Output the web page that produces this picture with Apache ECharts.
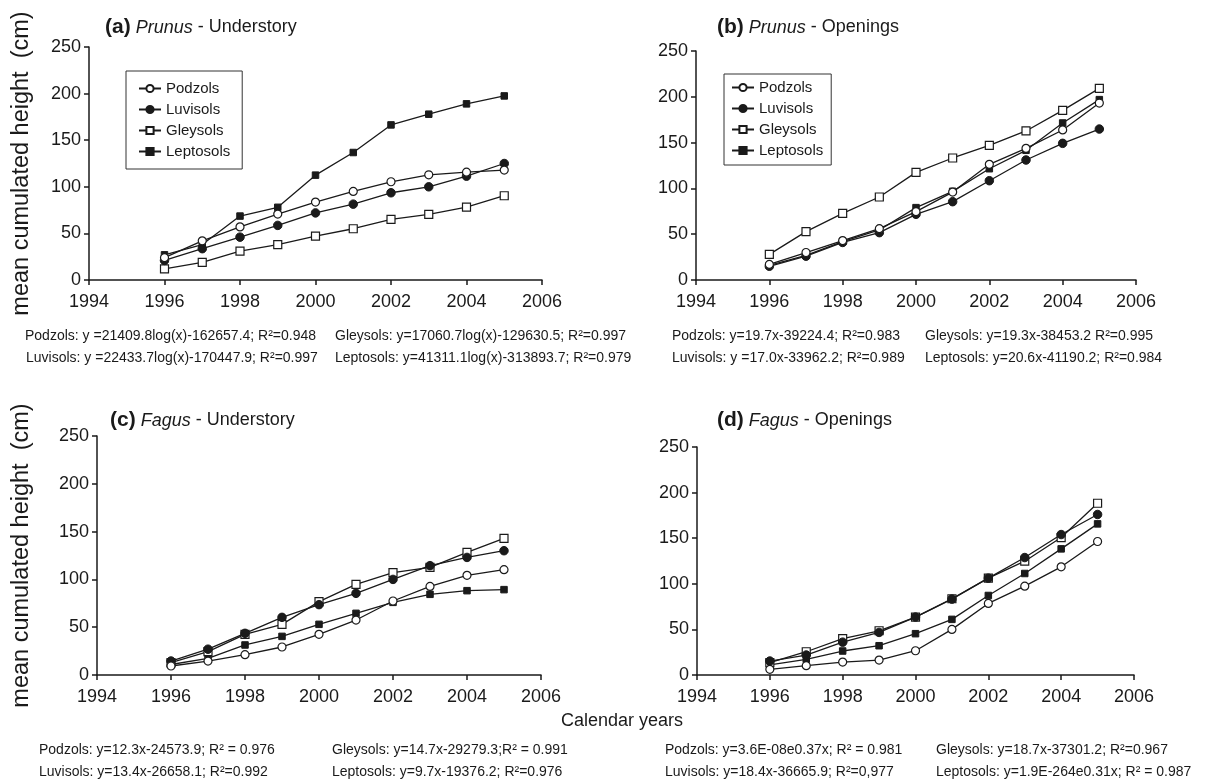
<!DOCTYPE html>
<html>
<head>
<meta charset="utf-8">
<script src="https://cdn.jsdelivr.net/npm/echarts@6/dist/echarts.min.js"></script>
<style>
html,body{margin:0;padding:0;background:#fff;}
#chart{width:1210px;height:782px;}
</style>
</head>
<body>
<div id="chart"></div>
<script>
// ---------- data ----------
const years = [1996, 1997, 1998, 1999, 2000, 2001, 2002, 2003, 2004, 2005];
const soils = ['Podzols', 'Luvisols', 'Gleysols', 'Leptosols'];
const xTicks = [1994, 1996, 1998, 2000, 2002, 2004, 2006];
const yTicks = [0, 50, 100, 150, 200, 250];

// (a) Prunus - Understory
const a_podzols   = [24, 42, 57, 70.7, 83.6, 95, 105.4, 112.9, 115.7, 117.9];
const a_luvisols  = [21, 33.6, 46, 58.6, 72, 81.4, 93.6, 100, 111.4, 125];
const a_gleysols  = [12, 19, 31, 38, 47, 55, 65, 70.4, 78.2, 90.4];
const a_leptosols = [27, 38, 68.6, 78, 112.5, 136.8, 166.4, 177.9, 189, 197.5];
// (b) Prunus - Openings
const b_podzols   = [17, 30, 43, 56, 74.6, 96, 126.3, 143.7, 163.8, 193.2];
const b_luvisols  = [15, 26, 41, 51.7, 71.7, 85.5, 108.4, 131, 149.2, 164.8];
const b_gleysols  = [28, 52.8, 72.8, 90.6, 117.5, 133.2, 147, 162.7, 185.2, 209.2];
const b_leptosols = [16, 27, 42, 54.6, 79, 96.8, 121.5, 141.6, 171.4, 196.9];
// (c) Fagus - Understory
const c_podzols   = [9.4, 14.6, 21.3, 29.3, 42.5, 57.5, 77.4, 92.7, 104.3, 110.2];
const c_luvisols  = [14.6, 27, 43.6, 60.3, 73.6, 85.4, 100, 114.4, 123, 130];
const c_gleysols  = [13, 24.4, 42.5, 53, 76.7, 94.8, 107, 112.6, 128.3, 143];
const c_leptosols = [11, 17.4, 31.4, 40.4, 53, 64.5, 76, 84.4, 88.2, 89.3];
// (d) Fagus - Openings
const d_podzols   = [6.2, 10.2, 14.2, 16.4, 26.6, 50, 78.5, 97.4, 118.6, 146.4];
const d_luvisols  = [15.3, 21.9, 36, 46.7, 63.5, 83.2, 106.2, 128.8, 154, 176];
const d_gleysols  = [13.5, 25.5, 39.8, 48.5, 63.5, 83.6, 106.2, 124.8, 150.7, 188.3];
const d_leptosols = [11, 17.2, 26.3, 32.1, 45.3, 61, 87.2, 111.3, 138.3, 165.7];

const panelTitles = [
  ['(a)', 'Prunus', ' - Understory'],
  ['(b)', 'Prunus', ' - Openings'],
  ['(c)', 'Fagus', ' - Understory'],
  ['(d)', 'Fagus', ' - Openings']
];
const yAxisLabel = 'mean cumulated height  (cm)';
const xAxisLabel = 'Calendar years';
const eq_a = ['Podzols: y =21409.8log(x)-162657.4; R²=0.948', 'Luvisols: y =22433.7log(x)-170447.9; R²=0.997',
              'Gleysols: y=17060.7log(x)-129630.5; R²=0.997', 'Leptosols: y=41311.1log(x)-313893.7; R²=0.979'];
const eq_b = ['Podzols: y=19.7x-39224.4; R²=0.983', 'Luvisols: y =17.0x-33962.2; R²=0.989',
              'Gleysols: y=19.3x-38453.2 R²=0.995', 'Leptosols: y=20.6x-41190.2; R²=0.984'];
const eq_c = ['Podzols: y=12.3x-24573.9; R² = 0.976', 'Luvisols: y=13.4x-26658.1; R²=0.992',
              'Gleysols: y=14.7x-29279.3;R² = 0.991', 'Leptosols: y=9.7x-19376.2; R²=0.976'];
const eq_d = ['Podzols: y=3.6E-08e0.37x; R² = 0.981', 'Luvisols: y=18.4x-36665.9; R²=0,977',
              'Gleysols: y=18.7x-37301.2; R²=0.967', 'Leptosols: y=1.9E-264e0.31x; R² = 0.987'];

const panelData = [
  [a_podzols, a_luvisols, a_gleysols, a_leptosols],
  [b_podzols, b_luvisols, b_gleysols, b_leptosols],
  [c_podzols, c_luvisols, c_gleysols, c_leptosols],
  [d_podzols, d_luvisols, d_gleysols, d_leptosols]
];

// ---------- layout / style ----------
const INK = '#1a1a1a';
const FONT = '"Liberation Sans", Arial, Helvetica, sans-serif';
const grids = [
  {left: 89,  top: 47,  width: 453, height: 233},
  {left: 696, top: 51,  width: 440, height: 229},
  {left: 97,  top: 436, width: 444, height: 239},
  {left: 697, top: 447, width: 437, height: 228}
];
const symbolStyles = [
  {symbol: 'circle', symbolSize: 8, itemStyle: {color: '#fff', borderColor: INK, borderWidth: 1.2}},
  {symbol: 'circle', symbolSize: 8.5, itemStyle: {color: INK, borderColor: INK, borderWidth: 1}},
  {symbol: 'rect',   symbolSize: 8, itemStyle: {color: '#fff', borderColor: INK, borderWidth: 1.2}},
  {symbol: 'rect',   symbolSize: 6.5, itemStyle: {color: INK, borderColor: INK, borderWidth: 1}}
];

const xAxes = grids.map((g, i) => ({
  type: 'value', gridIndex: i, min: xTicks[0], max: xTicks[xTicks.length - 1], interval: 2,
  axisLine: {show: true, onZero: false, lineStyle: {color: INK, width: 1.5}},
  axisTick: {show: true, length: 5, lineStyle: {color: INK, width: 1.5}},
  axisLabel: {color: INK, fontSize: 18, fontFamily: FONT, margin: 13, formatter: v => String(v)},
  splitLine: {show: false}
}));
const yAxes = grids.map((g, i) => ({
  type: 'value', gridIndex: i, min: yTicks[0], max: yTicks[yTicks.length - 1], interval: 50,
  axisLine: {show: true, lineStyle: {color: INK, width: 1.5}},
  axisTick: {show: true, length: 5, lineStyle: {color: INK, width: 1.5}},
  axisLabel: {color: INK, fontSize: 18, fontFamily: FONT, margin: 8},
  splitLine: {show: false}
}));

const series = [];
panelData.forEach((arrs, p) => {
  arrs.forEach((vals, s) => {
    series.push(Object.assign({
      name: soils[s], type: 'line', xAxisIndex: p, yAxisIndex: p,
      data: years.map((y, k) => [y, vals[k]]),
      lineStyle: {color: INK, width: 1.3},
      z: 2 + (3 - s),
      emphasis: {disabled: true}
    }, JSON.parse(JSON.stringify(symbolStyles[s]))));
  });
});

const titles = panelTitles.map((t, i) => ({
  left: [100, 712, 105, 712][i], top: [25, 25, 418, 418][i] - 13,
  text: '{b|' + t[0] + '} {i|' + t[1] + '}{n|' + t[2] + '}',
  textStyle: {fontWeight: 'normal', rich: {
    b: {fontSize: 21, fontWeight: 'bold', fontFamily: FONT, color: INK},
    i: {fontSize: 18, fontStyle: 'italic', fontWeight: 'normal', fontFamily: FONT, color: INK},
    n: {fontSize: 18, fontWeight: 'normal', fontFamily: FONT, color: INK}
  }}
}));

const legendCommon = {
  data: soils, orient: 'vertical', itemWidth: 22, itemHeight: 9, itemGap: 4,
  borderColor: '#333', borderWidth: 1, backgroundColor: '#fff',
  textStyle: {fontSize: 15, fontFamily: FONT, color: INK, lineHeight: 17},
  selectedMode: false
};
const legends = [
  Object.assign({left: 126, top: 71, padding: [9, 12, 9, 12]}, legendCommon),
  Object.assign({left: 724, top: 74, padding: [5, 8, 6, 7]}, legendCommon)
];

const graphics = [];
[163.5, 555.5].forEach(cy => {
  graphics.push({type: 'text', x: 22, y: cy, rotation: Math.PI / 2,
    style: {text: yAxisLabel, font: '23.5px ' + FONT, fill: INK, textAlign: 'center', textVerticalAlign: 'middle'}});
});
graphics.push({type: 'text', x: 622, y: 721,
  style: {text: xAxisLabel, font: '18px ' + FONT, fill: INK, textAlign: 'center', textVerticalAlign: 'middle'}});
const eqBlocks = [
  [eq_a, [25, 26, 335, 335], [336, 358]],
  [eq_b, [672, 672, 925, 925], [336, 358]],
  [eq_c, [39, 39, 332, 332], [750, 772]],
  [eq_d, [665, 665, 936, 936], [750, 772]]
];
eqBlocks.forEach(([eqs, xs, ys]) => {
  eqs.forEach((t, k) => {
    graphics.push({type: 'text', x: xs[k], y: ys[k % 2],
      style: {text: t, font: '14px ' + FONT, fill: INK, textAlign: 'left', textVerticalAlign: 'middle'}});
  });
});

const chart = echarts.init(document.getElementById('chart'), null, {renderer: 'canvas'});
chart.setOption({
  animation: false,
  backgroundColor: '#fff',
  title: titles,
  legend: legends,
  grid: grids,
  xAxis: xAxes,
  yAxis: yAxes,
  series: series,
  graphic: graphics
});
</script>
</body>
</html>
